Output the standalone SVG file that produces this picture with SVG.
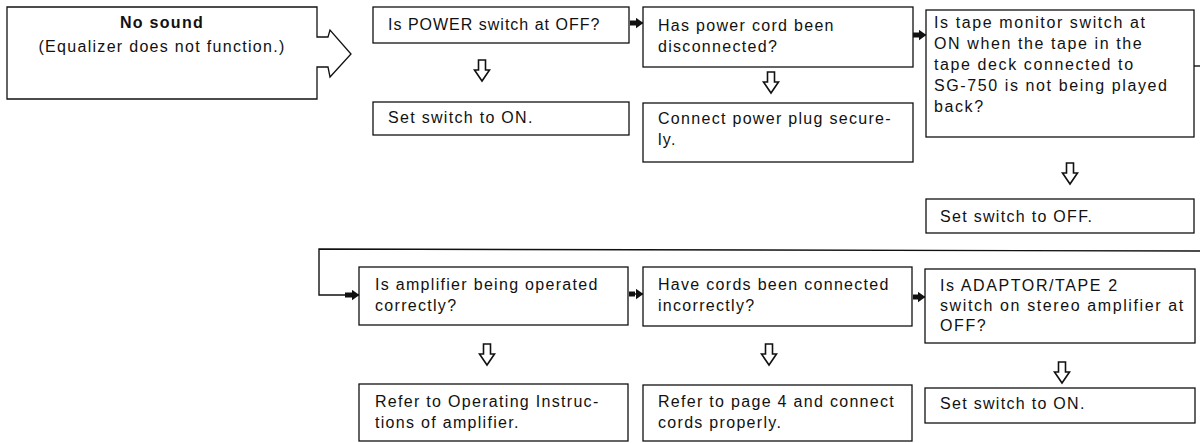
<svg xmlns="http://www.w3.org/2000/svg" width="1200" height="443" viewBox="0 0 1200 443">
<style>
  .box { fill: #ffffff; stroke: #111111; stroke-width: 1.3; }
  .t { font-family: "Liberation Sans", Arial, sans-serif; font-size: 16px; letter-spacing: 1.3px; fill: #111111; }
  .b { font-weight: bold; }
  .con { fill: none; stroke: #111111; stroke-width: 1.4; }
  .fat { fill: none; stroke: #111111; stroke-width: 5; }
  .down { fill: #ffffff; stroke: #111111; stroke-width: 1.6; stroke-linejoin: miter; }
</style>
<defs>
  <marker id="ah" markerUnits="userSpaceOnUse" markerWidth="8" markerHeight="11" refX="7.5" refY="5.5" orient="auto">
    <path d="M0,0 L8,5.5 L0,11 Z" fill="#111111"/>
  </marker>
  <path id="dn" class="down" d="M-3.5,0 H3.5 V10 H7.5 L0,21 L-7.5,10 H-3.5 Z"/>
</defs>
<rect width="1200" height="443" fill="#ffffff"/>

<g id="connectors">
  <line class="fat" x1="630" y1="23" x2="636" y2="23"/>
  <line class="con" x1="634" y1="23" x2="643" y2="23" marker-end="url(#ah)"/>
  <line class="fat" x1="913" y1="35" x2="919" y2="35"/>
  <line class="con" x1="917" y1="35" x2="926" y2="35" marker-end="url(#ah)"/>
  <line class="con" x1="1194" y1="66" x2="1200" y2="66"/>
  <polyline class="con" points="1200,251 319,249 319,295 350,295"/>
  <line class="fat" x1="345" y1="295" x2="352" y2="295"/>
  <line class="con" x1="349" y1="295" x2="359" y2="295" marker-end="url(#ah)"/>
  <line class="fat" x1="629" y1="294" x2="635" y2="294"/>
  <line class="con" x1="633" y1="294" x2="643" y2="294" marker-end="url(#ah)"/>
  <line class="fat" x1="913" y1="297" x2="918" y2="297"/>
  <line class="con" x1="916" y1="297" x2="925" y2="297" marker-end="url(#ah)"/>
  <use href="#dn" x="482" y="60"/>
  <use href="#dn" x="771" y="72"/>
  <use href="#dn" x="1070" y="163"/>
  <use href="#dn" x="487" y="344"/>
  <use href="#dn" x="769" y="344"/>
  <use href="#dn" x="1062" y="362"/>
</g>

<g id="n-nosound">
  <path class="box" d="M7,7 H317 V37 H328 L330,30 L351,54 L330,77 L328,67 H317 V99 H7 Z"/>
  <text class="t b" x="162" y="28" text-anchor="middle">No sound</text>
  <text class="t" x="162" y="52" text-anchor="middle">(Equalizer does not function.)</text>
</g>

<g id="n-power">
  <rect class="box" x="373" y="7" width="256" height="36"/>
  <text class="t" x="388" y="30" style="letter-spacing:1px">Is POWER switch at OFF?</text>
</g>
<g id="n-set-on-1">
  <rect class="box" x="373" y="102" width="256" height="33"/>
  <text class="t" x="388" y="123">Set switch to ON.</text>
</g>

<g id="n-cord">
  <rect class="box" x="643" y="7" width="270" height="60"/>
  <text class="t" x="658" y="31">Has power cord been</text>
  <text class="t" x="658" y="52">disconnected?</text>
</g>
<g id="n-plug">
  <rect class="box" x="643" y="103" width="270" height="59"/>
  <text class="t" x="658" y="124">Connect power plug secure-</text>
  <text class="t" x="658" y="145">ly.</text>
</g>

<g id="n-tape">
  <rect class="box" x="926" y="10" width="268" height="127"/>
  <text class="t" x="934" y="28" style="letter-spacing:1.6px">Is tape monitor switch at</text>
  <text class="t" x="934" y="49" style="letter-spacing:1.6px">ON when the tape in the</text>
  <text class="t" x="934" y="70" style="letter-spacing:1.6px">tape deck connected to</text>
  <text class="t" x="934" y="91" style="letter-spacing:1.6px">SG-750 is not being played</text>
  <text class="t" x="934" y="112" style="letter-spacing:1.6px">back?</text>
</g>
<g id="n-set-off">
  <rect class="box" x="926" y="199" width="268" height="34"/>
  <text class="t" x="940" y="222">Set switch to OFF.</text>
</g>

<g id="n-amp">
  <rect class="box" x="359" y="267" width="269" height="58"/>
  <text class="t" x="375" y="290">Is amplifier being operated</text>
  <text class="t" x="375" y="311">correctly?</text>
</g>
<g id="n-refer-op">
  <rect class="box" x="359" y="384" width="269" height="57"/>
  <text class="t" x="375" y="407">Refer to Operating Instruc-</text>
  <text class="t" x="375" y="428">tions of amplifier.</text>
</g>

<g id="n-cords">
  <rect class="box" x="643" y="267" width="269" height="59"/>
  <text class="t" x="658" y="290">Have cords been connected</text>
  <text class="t" x="658" y="311">incorrectly?</text>
</g>
<g id="n-refer-p4">
  <rect class="box" x="643" y="385" width="269" height="56"/>
  <text class="t" x="658" y="407">Refer to page 4 and connect</text>
  <text class="t" x="658" y="428">cords properly.</text>
</g>

<g id="n-adaptor">
  <rect class="box" x="925" y="269" width="270" height="74"/>
  <text class="t" x="940" y="291" style="letter-spacing:1.6px">Is ADAPTOR/TAPE 2</text>
  <text class="t" x="940" y="311" style="letter-spacing:1.6px">switch on stereo amplifier at</text>
  <text class="t" x="940" y="331" style="letter-spacing:1.6px">OFF?</text>
</g>
<g id="n-set-on-2">
  <rect class="box" x="925" y="388" width="270" height="35"/>
  <text class="t" x="940" y="409">Set switch to ON.</text>
</g>
</svg>
